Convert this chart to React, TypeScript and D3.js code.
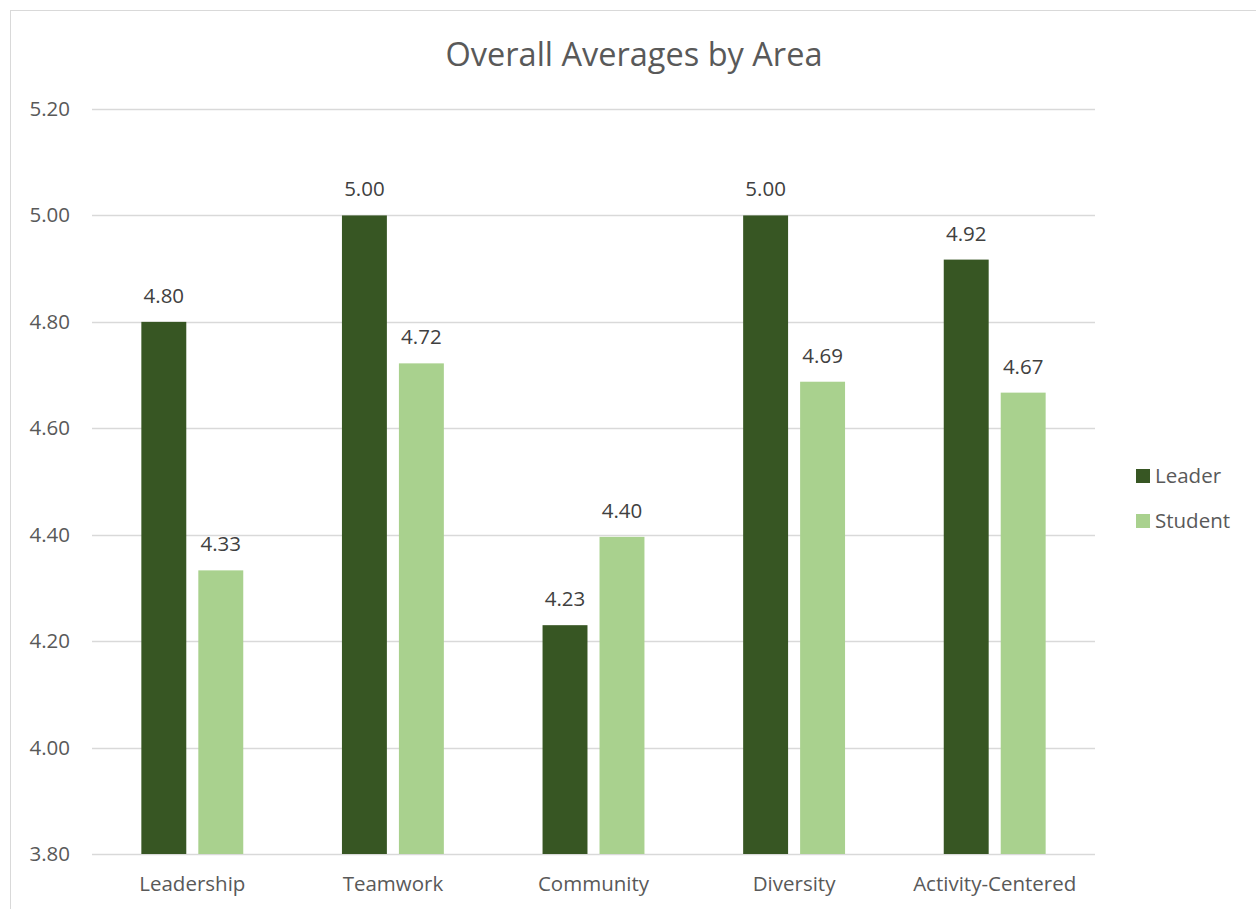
import React from "react";
import * as d3 from "d3";

const categories = ["Leadership", "Teamwork", "Community", "Diversity", "Activity-Centered"];
const leaderValues = [4.8, 5.0, 4.23, 5.0, 4.917];
const studentValues = [4.333, 4.722, 4.396, 4.6875, 4.667];
const seriesNames = ["Leader", "Student"];
const seriesColors = ["#375623", "#A9D18E"];
const yTicks = [3.8, 4.0, 4.2, 4.4, 4.6, 4.8, 5.0, 5.2];

const W = 1256;
const H = 909;
const left = 92;
const right = 1095;
const top = 109;
const bottom = 854;
const font = "'Open Sans', 'Noto Sans', sans-serif";
const textColor = "#595959";
const fs = 20.5;

export default function App() {
  const x = d3.scaleBand<string>().domain(categories).range([left, right]).paddingInner(0).paddingOuter(0);
  const y = d3.scaleLinear().domain([3.8, 5.2]).range([bottom, top]);
  const bw = x.bandwidth();
  const barW = bw * 0.224;
  const gap = bw * 0.06;
  const series = [leaderValues, studentValues];

  return (
    <svg width={W} height={H} style={{ position: "absolute", left: 0, top: 0, display: "block" }}>
      <rect x={0} y={0} width={W} height={H} fill="#fff" />
      <rect x={10.5} y={10.5} width={W + 10} height={H + 10} fill="#fff" stroke="#D9D9D9" strokeWidth={1} />
      <text x={634} y={66} textAnchor="middle" fontFamily={font} fontSize={32.5} fill={textColor}>
        Overall Averages by Area
      </text>
      {yTicks.map((t) => (
        <g key={t}>
          <line x1={left} x2={right} y1={Math.round(y(t)) + 0.5} y2={Math.round(y(t)) + 0.5} stroke="#D9D9D9" strokeWidth={1.5} />
          <text x={70} y={y(t) + 7} textAnchor="end" fontFamily={font} fontSize={fs} fill={textColor}>
            {t.toFixed(2)}
          </text>
        </g>
      ))}
      {categories.map((c, i) => {
        const cx = (x(c) as number) + bw / 2;
        return (
          <g key={c}>
            {series.map((vals, s) => {
              const bx = s === 0 ? cx - gap / 2 - barW : cx + gap / 2;
              const v = vals[i];
              return (
                <g key={s}>
                  <rect x={bx} y={y(v)} width={barW} height={y(3.8) - y(v)} fill={seriesColors[s]} />
                  <text x={bx + barW / 2} y={y(v) - 19} textAnchor="middle" fontFamily={font} fontSize={fs} fill="#404040">
                    {v.toFixed(2)}
                  </text>
                </g>
              );
            })}
            <text x={cx} y={891} textAnchor="middle" fontFamily={font} fontSize={fs} fill={textColor}>
              {c}
            </text>
          </g>
        );
      })}
      {seriesNames.map((n, s) => (
        <g key={n}>
          <rect x={1136} y={469 + s * 45} width={14} height={14} fill={seriesColors[s]} />
          <text x={1155} y={483 + s * 45} fontFamily={font} fontSize={fs} fill={textColor}>
            {n}
          </text>
        </g>
      ))}
    </svg>
  );
}
